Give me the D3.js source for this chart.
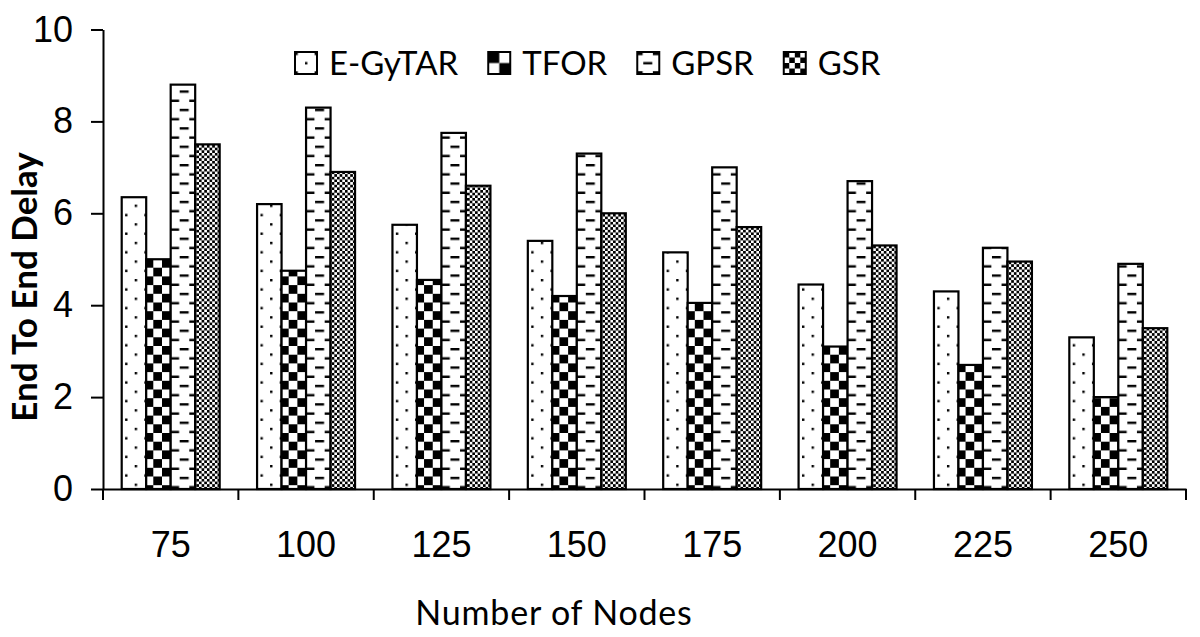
<!DOCTYPE html>
<html>
<head>
<meta charset="utf-8">
<script src="https://d3js.org/d3.v7.min.js"></script>
<style>
  body { margin: 0; background: #fff; }
  svg { display: block; }
  .tick text { font-family: "Liberation Sans", Arial, sans-serif; font-size: 36px; fill: #000; }
  .axisTitle { font-family: Lato, "Open Sans", sans-serif; fill: #000; }
  .legendText { font-family: Lato, "Open Sans", sans-serif; font-size: 33px; fill: #000; }
</style>
</head>
<body>
<div id="chart"></div>
<script>

var nodes = ["75", "100", "125", "150", "175", "200", "225", "250"];
var series = ["E-GyTAR", "TFOR", "GPSR", "GSR"];
var egytar = [6.35, 6.2, 5.75, 5.4, 5.15, 4.45, 4.3, 3.3];
var tfor   = [5.0, 4.75, 4.55, 4.2, 4.05, 3.1, 2.7, 2.0];
var gpsr   = [8.8, 8.3, 7.75, 7.3, 7.0, 6.7, 5.25, 4.9];
var gsr    = [7.5, 6.9, 6.6, 6.0, 5.7, 5.3, 4.95, 3.5];
var yTicks = [0, 2, 4, 6, 8, 10];

var values = [egytar, tfor, gpsr, gsr];
var patternIds = ["pDots", "pCheck", "pDash", "pFine"];

var W = 1200, H = 637;
var margin = { left: 103, right: 14, top: 29.5, bottom: 148 };

var svg = d3.select("#chart").append("svg")
    .attr("width", W)
    .attr("height", H);

svg.append("rect").attr("width", W).attr("height", H).attr("fill", "#fff");

var defs = svg.append("defs");

// fill patterns, anchored in user space like the source
function makePattern(id, kind, x0, y0, s) {
    var p = defs.append("pattern")
        .attr("id", id)
        .attr("patternUnits", "userSpaceOnUse")
        .attr("x", x0).attr("y", y0);
    if (kind == "dots") {
        p.attr("width", 19.2 * s).attr("height", 18.6 * s);
        p.append("rect").attr("width", 19.2 * s).attr("height", 18.6 * s).attr("fill", "#fff");
        p.append("rect").attr("x", 0).attr("y", 0).attr("width", 2.4).attr("height", 2.4).attr("fill", "#000");
        p.append("rect").attr("x", 9.6 * s).attr("y", 9.3 * s).attr("width", 2.4).attr("height", 2.4).attr("fill", "#000");
    } else if (kind == "check") {
        var q = 8.7 * s;
        p.attr("width", 2 * q).attr("height", 2 * q);
        p.append("rect").attr("width", 2 * q).attr("height", 2 * q).attr("fill", "#fff");
        p.append("rect").attr("width", q).attr("height", q).attr("fill", "#000");
        p.append("rect").attr("x", q).attr("y", q).attr("width", q).attr("height", q).attr("fill", "#000");
    } else if (kind == "dash") {
        p.attr("width", 19.2 * s).attr("height", 18.4 * s);
        p.append("rect").attr("width", 19.2 * s).attr("height", 18.4 * s).attr("fill", "#fff");
        p.append("rect").attr("x", 0).attr("y", 0).attr("width", 9).attr("height", 2.4).attr("fill", "#000");
        p.append("rect").attr("x", 9.6 * s).attr("y", 9.2 * s).attr("width", 9).attr("height", 2.4).attr("fill", "#000");
    } else {
        var f = 2.65 * s;
        p.attr("width", 2 * f).attr("height", 2 * f);
        p.append("rect").attr("width", 2 * f).attr("height", 2 * f).attr("fill", "#fff");
        p.append("rect").attr("width", f).attr("height", f).attr("fill", "#000");
        p.append("rect").attr("x", f).attr("y", f).attr("width", f).attr("height", f).attr("fill", "#000");
    }
}

makePattern("pDots", "dots", 127.7, 0, 1);
makePattern("pCheck", "check", 146, 259, 1);
makePattern("pDash", "dash", 172.7, 256, 1);
makePattern("pFine", "fine", 194, 145, 1);

var x0 = d3.scaleBand()
    .domain(nodes)
    .range([margin.left, W - margin.right]);

var x1 = d3.scaleBand()
    .domain(series)
    .range([18.7, x0.bandwidth() - 18.7]);

var y = d3.scaleLinear()
    .domain([0, 10])
    .range([H - margin.bottom, margin.top]);

// bars
var groups = svg.selectAll(".group")
    .data(nodes).enter()
    .append("g")
    .attr("class", "group")
    .attr("transform", function(d) { return "translate(" + x0(d) + ",0)"; });

groups.selectAll("rect")
    .data(function(d, i) {
        return series.map(function(s, j) { return { s: s, j: j, v: values[j][i] }; });
    }).enter()
    .append("rect")
    .attr("x", function(d) { return x1(d.s); })
    .attr("y", function(d) { return y(d.v); })
    .attr("width", x1.bandwidth())
    .attr("height", function(d) { return y(0) - y(d.v); })
    .attr("fill", function(d) { return "url(#" + patternIds[d.j] + ")"; })
    .attr("stroke", "#000")
    .attr("stroke-width", 2.2);

// y axis
var yAxis = d3.axisLeft(y)
    .tickValues(yTicks)
    .tickFormat(d3.format("d"))
    .tickSize(12)
    .tickSizeOuter(0)
    .tickPadding(18);

var gy = svg.append("g")
    .attr("transform", "translate(" + margin.left + ",0)")
    .call(yAxis);
gy.select(".domain").attr("stroke", "#000").attr("stroke-width", 2);
gy.selectAll(".tick line").attr("stroke", "#000").attr("stroke-width", 2);

// x axis (labels centred, ticks on band edges)
var xAxis = d3.axisBottom(x0)
    .tickSize(0)
    .tickSizeOuter(0)
    .tickPadding(42);

var gx = svg.append("g")
    .attr("transform", "translate(0," + y(0) + ")")
    .call(xAxis);
gx.select(".domain").attr("stroke", "#000").attr("stroke-width", 2);

var edges = nodes.map(function(d) { return x0(d); }).concat([x0.range()[1]]);
gx.selectAll(".edge")
    .data(edges).enter()
    .append("line")
    .attr("class", "edge")
    .attr("x1", function(d) { return d; })
    .attr("x2", function(d) { return d; })
    .attr("y1", 0)
    .attr("y2", 11)
    .attr("stroke", "#000")
    .attr("stroke-width", 2);

// axis titles
svg.append("text")
    .attr("class", "axisTitle")
    .attr("transform", "translate(37," + 287 + ") rotate(-90)")
    .attr("text-anchor", "middle")
    .style("font-size", "35px")
    .style("font-weight", "bold")
    .text("End To End Delay");

svg.append("text")
    .attr("class", "axisTitle")
    .attr("x", 554)
    .attr("y", 625)
    .attr("text-anchor", "middle")
    .style("font-size", "34px")
    .style("letter-spacing", "0.8px")
    .text("Number of Nodes");

// legend
var legend = svg.append("g").attr("class", "legend");
var lx = 295, ly = 52, box = 22;
var legendKinds = ["dots", "check", "dash", "fine"];
var legendScale = [1, 1.27, 1, 2.08];

series.forEach(function(s, i) {
    var id = "lg" + i;
    if (legendKinds[i] == "dots") {
        makePattern(id, "dots", lx + 10 - 9.6, ly + 10 - 9.3, 1);
    } else if (legendKinds[i] == "dash") {
        makePattern(id, "dash", lx + 6 - 9.6, ly + 10 - 9.2, 1);
    } else {
        makePattern(id, legendKinds[i], lx, ly, legendScale[i]);
    }
    legend.append("rect")
        .attr("x", lx).attr("y", ly)
        .attr("width", box).attr("height", box)
        .attr("fill", "url(#" + id + ")")
        .attr("stroke", "#000")
        .attr("stroke-width", 2);
    var t = legend.append("text")
        .attr("class", "legendText")
        .attr("x", lx + box + 12)
        .attr("y", ly + 23)
        .text(s);
    lx = lx + box + 12 + t.node().getComputedTextLength() + 30;
});

</script>
</body>
</html>
